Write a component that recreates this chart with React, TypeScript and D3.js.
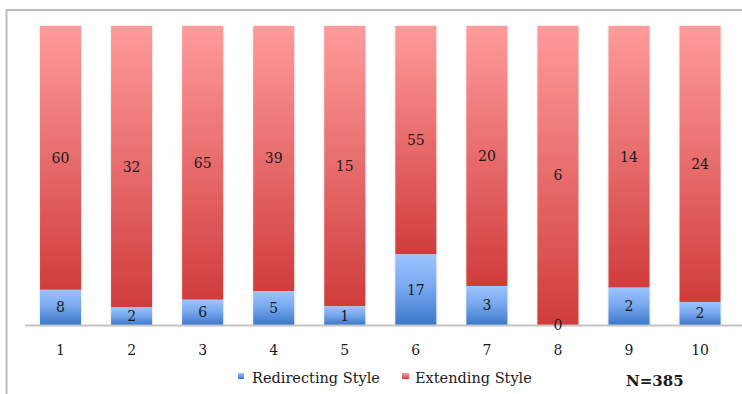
import React from "react";
import * as d3 from "d3";

const categories = ["1", "2", "3", "4", "5", "6", "7", "8", "9", "10"];
const redirecting = [8, 2, 6, 5, 1, 17, 3, 0, 2, 2];
const extending = [60, 32, 65, 39, 15, 55, 20, 6, 14, 24];
const seriesNames = ["Redirecting Style", "Extending Style"];
const sampleLabel = "N=385";

const W = 742;
const H = 394;
const FONT = "'DejaVu Serif', 'Liberation Serif', serif";

export default function App() {
  const x = d3
    .scaleBand<string>()
    .domain(categories)
    .range([25, 735.6])
    .paddingInner(0.423)
    .paddingOuter(0.2115);
  const y = d3.scaleLinear().domain([0, 1]).range([325, 26]);

  const rows = categories.map((c, i) => {
    const total = redirecting[i] + extending[i];
    const b = redirecting[i] / total;
    return { c, b, blue: redirecting[i], red: extending[i] };
  });

  return (
    <svg
      width={W}
      height={H}
      style={{ position: "absolute", left: 0, top: 0, background: "#fff" }}
    >
      <defs>
        <linearGradient id="gBlue" x1="0" y1="0" x2="0" y2="1">
          <stop offset="0" stopColor="#9cc4ff" />
          <stop offset="0.45" stopColor="#7aa9ee" />
          <stop offset="1" stopColor="#3b78cb" />
        </linearGradient>
        <linearGradient id="gRed" x1="0" y1="0" x2="0" y2="1">
          <stop offset="0" stopColor="#ff9b9b" />
          <stop offset="0.5" stopColor="#e86c6c" />
          <stop offset="1" stopColor="#d03c3c" />
        </linearGradient>
        <linearGradient id="lBlue" x1="0" y1="0" x2="0" y2="1">
          <stop offset="0" stopColor="#9cc4ff" />
          <stop offset="1" stopColor="#3b78cb" />
        </linearGradient>
        <linearGradient id="lRed" x1="0" y1="0" x2="0" y2="1">
          <stop offset="0" stopColor="#ff9b9b" />
          <stop offset="1" stopColor="#d03c3c" />
        </linearGradient>
        <filter id="sh" x="-20%" y="-5%" width="140%" height="110%">
          <feDropShadow dx="0" dy="0" stdDeviation="1.2" floodColor="#000" floodOpacity="0.18" />
        </filter>
      </defs>

      <rect x={6.5} y={10} width={W + 20} height={H + 20} fill="none" stroke="#bdbdbd" strokeWidth={2} />

      {rows.map((r) => {
        const x0 = x(r.c)!;
        const bw = x.bandwidth();
        const yb = y(r.b);
        return (
          <g key={r.c} filter="url(#sh)">
            <rect x={x0} y={y(1)} width={bw} height={yb - y(1)} fill="url(#gRed)" />
            {r.b > 0 && (
              <rect x={x0} y={yb} width={bw} height={y(0) - yb} fill="url(#gBlue)" />
            )}
          </g>
        );
      })}

      <line x1={25} x2={W} y1={325.5} y2={325.5} stroke="#c4c4c4" strokeWidth={2} />

      {rows.map((r) => {
        const cx = x(r.c)! + x.bandwidth() / 2;
        const yb = y(r.b);
        return (
          <g key={"l" + r.c} fontFamily={FONT} fontSize={14} fill="#1a1a1a" textAnchor="middle">
            <text x={cx} y={(y(1) + yb) / 2} dy="0.35em">{r.red}</text>
            <text x={cx} y={(yb + y(0)) / 2} dy="0.35em">{r.blue}</text>
            <text x={cx} y={350} dy="0.35em">{r.c}</text>
          </g>
        );
      })}

      <g fontFamily={FONT} fontSize={14.5} fill="#1a1a1a">
        <rect x={238} y={373} width={6} height={6} fill="url(#lBlue)" />
        <text x={252} y={382.5}>{seriesNames[0]}</text>
        <rect x={402} y={373} width={7} height={6} fill="url(#lRed)" />
        <text x={415} y={382.5}>{seriesNames[1]}</text>
        <text x={626} y={385.5} fontWeight="bold" fontSize={15}>{sampleLabel}</text>
      </g>
    </svg>
  );
}
